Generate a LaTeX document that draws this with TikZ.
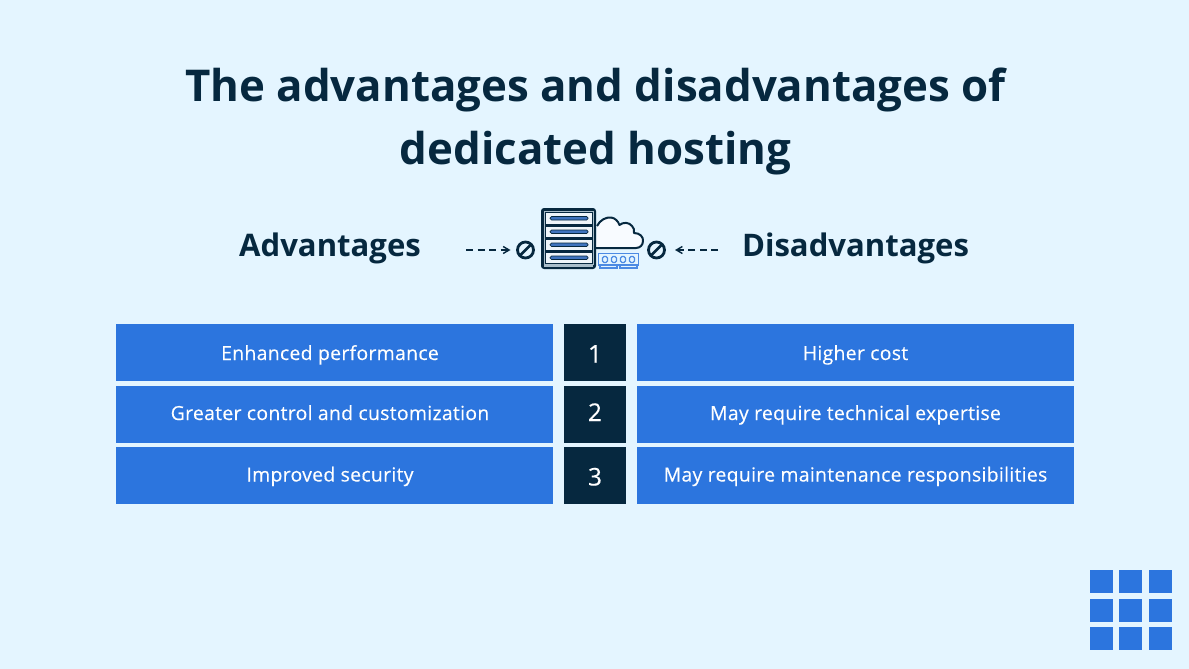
\documentclass[tikz,border=0pt]{standalone}
\usepackage{fontspec}
\setmainfont{Open Sans}
\newfontfamily\cellf[LetterSpace=1.5,FakeBold=0.3]{Open Sans}
\usetikzlibrary{arrows.meta}
\definecolor{bgc}{HTML}{E4F5FF}
\definecolor{navy}{HTML}{06283F}
\definecolor{blu}{HTML}{2C75DE}
\definecolor{slot}{HTML}{3F74BE}
\definecolor{slate}{HTML}{A9BECB}
\definecolor{rowc}{HTML}{EEF5FA}
\definecolor{cloudc}{HTML}{F8FBFF}
\tikzset{
 x=1bp,y=-1bp,
 cell/.style={fill=blu,draw=none,minimum height=57bp,minimum width=437bp,inner sep=0pt},
 celltext/.style={anchor=base,inner sep=0pt,text=white,font=\fontsize{19.5}{22}\selectfont\cellf},
 numcell/.style={fill=navy,draw=none,minimum height=57bp,minimum width=62bp,inner sep=0pt},
 numtext/.style={anchor=base,inner sep=0pt,text=white,font=\fontsize{24.5}{28}\selectfont\cellf},
 heading/.style={anchor=base,text=navy,font=\fontsize{31.2}{36}\selectfont\bfseries,inner sep=0pt},
 titletext/.style={anchor=base,text=navy,font=\fontsize{44}{62}\selectfont\bfseries,inner sep=0pt},
 tile/.style={fill=blu,draw=none,minimum size=23bp,inner sep=0pt},
 nosign/.style={circle,draw=navy,line width=2.8bp,minimum size=16bp,inner sep=0pt,
   path picture={\draw[navy,line width=2.6bp] (path picture bounding box.south west)--(path picture bounding box.north east);}},
 dasharrow/.style={draw=navy,line width=1.4bp,dash pattern=on 7bp off 4.5bp,-{Straight Barb[length=6bp,width=7bp]}},
 slotbar/.style={fill=slot,draw=navy,line width=.7bp,rounded corners=1.5bp},
 ram/.style={draw=blu!85,line width=1.4bp},
}
\begin{document}
\begin{tikzpicture}
\useasboundingbox (0,0) rectangle (1189,669);
\fill[bgc] (0,0) rectangle (1189,669);
\node[titletext] (t1) at (595.5,102) {The advantages and disadvantages of};
\node[titletext] (t2) at (595.5,165) {dedicated hosting};
\node[heading] (adv) at (330,256) {Advantages};
\node[heading] (dis) at (855.5,256) {Disadvantages};
% table
\node[cell] (a1) at (334.5,352.5) {};
\node[cell] (a2) at (334.5,414.5) {};
\node[cell] (a3) at (334.5,475.5) {};
\node[numcell] (n1) at (595,352.5) {};
\node[numcell] (n2) at (595,414.5) {};
\node[numcell] (n3) at (595,475.5) {};
\node[cell] (d1) at (855.5,352.5) {};
\node[cell] (d2) at (855.5,414.5) {};
\node[cell] (d3) at (855.5,475.5) {};
\node[celltext] (a1t) at (330,360) {Enhanced performance};
\node[celltext] (a2t) at (330,420) {Greater control and customization};
\node[celltext] (a3t) at (330,481.5) {Improved security};
\node[numtext] (n1t) at (595,362.5) {1};
\node[numtext] (n2t) at (595,421) {2};
\node[numtext] (n3t) at (595,485.5) {3};
\node[celltext] (d1t) at (855.5,360) {Higher cost};
\node[celltext] (d2t) at (855.5,420) {May require technical expertise};
\node[celltext] (d3t) at (855.5,481.5) {May require maintenance responsibilities};
% icon: cloud
\draw[fill=cloudc,draw=navy,line width=2bp,line join=round]
 (597,226) .. controls (600,220) and (606,217) .. (611,217.5)
 .. controls (615,218) and (618,221) .. (619.5,225)
 .. controls (623,222) and (629,222) .. (632,226)
 .. controls (634,228) and (634.5,230) .. (634,233)
 .. controls (640,233) and (643.5,237) .. (643,241)
 .. controls (643,245) and (640,248) .. (636,248)
 -- (596,248);
% icon: server
\fill[navy,rounded corners=3bp] (541,208) rectangle (596,269);
\fill[slate] (544,264.5) rectangle (593,267);
\draw[slate,line width=.6bp] (544,211) rectangle (593,264.5);
\foreach \y in {213,226.5,239.5,252.5}{
 \fill[rowc] (546,\y) rectangle (592,\y+10.5);
 \draw[slotbar] (550,\y+3.5) rectangle (588,\y+7);
}
% icon: memory
\draw[ram,fill=bgc] (598.5,253.5) rectangle (638.5,265);
\draw[ram] (600,265)--(600,268)--(617,268)--(617,265) (620,265)--(620,268)--(637,268)--(637,265);
\foreach \x in {605,614,623,632}{\draw[ram,rounded corners=1.5bp] (\x-2.5,256.5) rectangle (\x+2.5,262.5);}
% no-signs and arrows
\node[nosign] (ns1) at (525.5,250) {};
\node[nosign] (ns2) at (656.5,250) {};
\coordinate (s1) at (466,250);
\coordinate (s2) at (718,250);
\draw[dasharrow] (s1) -- (510.5,250);
\draw[dasharrow] (s2) -- (675,250);
% tiles
\foreach \r/\y in {1/581.5,2/610,3/638.5}{
 \foreach \c/\x in {1/1101.5,2/1130.5,3/1160}{
  \node[tile] (g\r\c) at (\x,\y) {};
 }
}
\end{tikzpicture}
\end{document}
